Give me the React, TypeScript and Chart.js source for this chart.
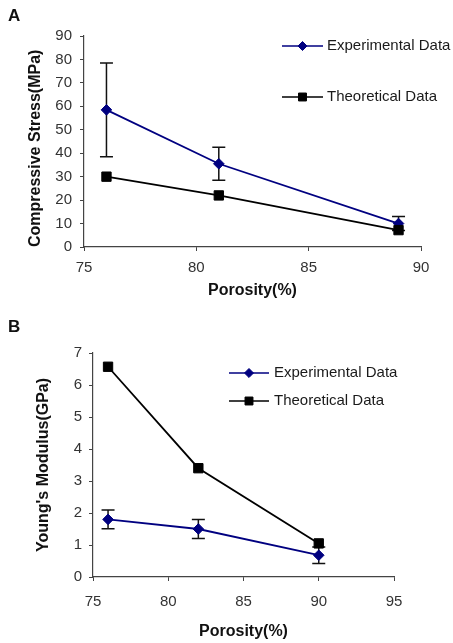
import React, { useEffect, useRef } from "react";
import { Chart, registerables } from "chart.js";
import { drawPoint } from "chart.js/helpers";

Chart.register(...registerables);

// ---------- Data ----------
// Panel A: Compressive stress vs porosity
const porosityA = [76, 81, 89];
const expStressA = [58.5, 35.5, 10];
const expStressErrA = [20, 7, 3];
const theoStressA = [30, 22, 7.2];

// Panel B: Young's modulus vs porosity
const porosityB = [76, 82, 90];
const expModulusB = [1.8, 1.5, 0.68];
const expModulusErrB = [0.29, 0.3, 0.26];
const theoModulusB = [6.57, 3.4, 1.05];

const seriesLabels = ["Experimental Data", "Theoretical Data"];
const axisTitlesA = { x: "Porosity(%)", y: "Compressive Stress(MPa)" };
const axisTitlesB = { x: "Porosity(%)", y: "Young's Modulus(GPa)" };
const xRangeA = [75, 90];
const yRangeA = [0, 90];
const xRangeB = [75, 95];
const yRangeB = [0, 7];

const FONT = "'Liberation Sans', Arial, sans-serif";
const EXP_COLOR = "#000080";
const THEO_COLOR = "#000000";
const AXIS_COLOR = "#444444";

const errorBarPlugin = {
  id: "errorBars",
  beforeDatasetsDraw(chart: any) {
    const { ctx } = chart;
    const yScale = chart.scales.y;
    chart.data.datasets.forEach((ds: any, i: number) => {
      const errs: number[] | undefined = ds.errors;
      if (!errs) return;
      const meta = chart.getDatasetMeta(i);
      const cap = 6.5;
      meta.data.forEach((pt: any, j: number) => {
        const v = ds.data[j].y;
        const e = errs[j];
        const x = pt.x;
        const yTop = yScale.getPixelForValue(v + e);
        const yBot = yScale.getPixelForValue(v - e);
        ctx.save();
        ctx.strokeStyle = "#111";
        ctx.lineWidth = 1.5;
        ctx.beginPath();
        ctx.moveTo(x, yTop);
        ctx.lineTo(x, yBot);
        ctx.moveTo(x - cap, yTop);
        ctx.lineTo(x + cap, yTop);
        ctx.moveTo(x - cap, yBot);
        ctx.lineTo(x + cap, yBot);
        ctx.stroke();
        ctx.restore();
      });
    });
  },
};

const seriesKeyPlugin = {
  id: "seriesKey",
  afterDraw(chart: any, _args: any, opts: any) {
    const { ctx } = chart;
    const { x, lineLen, textX, ys, markerScale } = opts;
    chart.data.datasets.forEach((ds: any, i: number) => {
      const y = ys[i];
      ctx.save();
      ctx.strokeStyle = ds.borderColor;
      ctx.lineWidth = 1.7;
      ctx.beginPath();
      ctx.moveTo(x, y);
      ctx.lineTo(x + lineLen, y);
      ctx.stroke();
      ctx.fillStyle = ds.backgroundColor;
      ctx.strokeStyle = ds.borderColor;
      ctx.lineWidth = 1;
      drawPoint(
        ctx,
        { pointStyle: ds.pointStyle, radius: ds.pointRadius * markerScale, rotation: 0, borderWidth: 1 },
        x + lineLen / 2,
        y
      );
      ctx.fillStyle = "#1a1a1a";
      ctx.font = `15px ${FONT}`;
      ctx.textAlign = "left";
      ctx.textBaseline = "middle";
      ctx.fillText(ds.label, textX, y);
      ctx.restore();
    });
  },
};

type PanelSpec = {
  xs: number[];
  exp: number[];
  expErr: number[];
  theo: number[];
  xRange: number[];
  yRange: number[];
  xStep: number;
  yStep: number;
  titles: { x: string; y: string };
  area: { left: number; top: number; right: number; bottom: number };
  width: number;
  height: number;
  yTitlePadTop: number;
  yTitleAlign: "start" | "center";
  xTitlePadBottom: number;
  xTickPad: number;
  yTickPad: number;
  key: { x: number; lineLen: number; textX: number; ys: number[]; markerScale: number };
};

function makeConfig(p: PanelSpec): any {
  const tickFont = { family: FONT, size: 15 };
  const titleFont = { family: FONT, size: 16, weight: "bold" as const };
  return {
    type: "line",
    data: {
      datasets: [
        {
          label: seriesLabels[0],
          data: p.xs.map((x, i) => ({ x, y: p.exp[i] })),
          errors: p.expErr,
          borderColor: EXP_COLOR,
          backgroundColor: EXP_COLOR,
          borderWidth: 1.8,
          pointStyle: "rectRot",
          pointRadius: 5.3,
          pointBorderWidth: 1,
          order: 1,
        },
        {
          label: seriesLabels[1],
          data: p.xs.map((x, i) => ({ x, y: p.theo[i] })),
          borderColor: THEO_COLOR,
          backgroundColor: THEO_COLOR,
          borderWidth: 1.8,
          pointStyle: "rect",
          pointRadius: 6.6,
          pointBorderWidth: 1,
          order: 0,
        },
      ],
    },
    options: {
      responsive: false,
      animation: false,
      events: [],
      layout: {
        padding: { left: 0, top: p.area.top, right: p.width - p.area.right, bottom: 0 },
      },
      plugins: {
        legend: { display: false },
        tooltip: { enabled: false },
        seriesKey: p.key,
      },
      scales: {
        x: {
          type: "linear",
          min: p.xRange[0],
          max: p.xRange[1],
          ticks: { stepSize: p.xStep, font: tickFont, color: "#333", padding: p.xTickPad, maxRotation: 0 },
          grid: { display: true, drawOnChartArea: false, drawTicks: true, tickLength: 4, color: AXIS_COLOR },
          border: { display: true, color: AXIS_COLOR, width: 1.2 },
          title: {
            display: true,
            text: p.titles.x,
            font: titleFont,
            color: "#111",
            padding: { top: 0, bottom: p.xTitlePadBottom },
          },
          afterFit: (s: any) => {
            s.height = p.height - p.area.bottom;
          },
        },
        y: {
          type: "linear",
          min: p.yRange[0],
          max: p.yRange[1],
          ticks: { stepSize: p.yStep, font: tickFont, color: "#333", padding: p.yTickPad },
          grid: { display: true, drawOnChartArea: false, drawTicks: true, tickLength: 4, color: AXIS_COLOR },
          border: { display: true, color: AXIS_COLOR, width: 1.2 },
          title: {
            display: true,
            text: p.titles.y,
            font: titleFont,
            color: "#111",
            align: p.yTitleAlign,
            padding: { top: p.yTitlePadTop, bottom: 0 },
          },
          afterFit: (s: any) => {
            s.width = p.area.left;
          },
        },
      },
    },
    plugins: [errorBarPlugin, seriesKeyPlugin],
  };
}

const panelA: PanelSpec = {
  xs: porosityA,
  exp: expStressA,
  expErr: expStressErrA,
  theo: theoStressA,
  xRange: xRangeA,
  yRange: yRangeA,
  xStep: 5,
  yStep: 10,
  titles: axisTitlesA,
  area: { left: 84, top: 36, right: 421, bottom: 247 },
  width: 453,
  height: 310,
  yTitlePadTop: 26,
  yTitleAlign: "start",
  xTitlePadBottom: 10,
  xTickPad: 8,
  yTickPad: 8,
  key: { x: 282, lineLen: 41, textX: 327, ys: [46, 97], markerScale: 0.85 },
};

const panelB: PanelSpec = {
  xs: porosityB,
  exp: expModulusB,
  expErr: expModulusErrB,
  theo: theoModulusB,
  xRange: xRangeB,
  yRange: yRangeB,
  xStep: 5,
  yStep: 1,
  titles: axisTitlesB,
  area: { left: 93, top: 43, right: 394, bottom: 267 },
  width: 453,
  height: 333,
  yTitlePadTop: 34,
  yTitleAlign: "center",
  xTitlePadBottom: 1.5,
  xTickPad: 12,
  yTickPad: 7,
  key: { x: 229, lineLen: 40, textX: 274, ys: [63, 91], markerScale: 0.85 },
};

function Panel({ spec }: { spec: PanelSpec }) {
  const ref = useRef<HTMLCanvasElement>(null);
  useEffect(() => {
    if (!ref.current) return;
    const chart = new Chart(ref.current, makeConfig(spec));
    return () => chart.destroy();
  }, [spec]);
  return (
    <canvas
      ref={ref}
      width={spec.width}
      height={spec.height}
      style={{ display: "block", width: spec.width, height: spec.height }}
    />
  );
}

const letterStyle: React.CSSProperties = {
  position: "absolute",
  left: 8,
  fontFamily: FONT,
  fontWeight: "bold",
  fontSize: 17,
  lineHeight: "17px",
  color: "#111",
};

export default function App() {
  return (
    <div style={{ position: "absolute", left: 0, top: 0, width: 453, height: 643, background: "#fff" }}>
      <div style={{ position: "absolute", left: 0, top: 0 }}>
        <Panel spec={panelA} />
      </div>
      <div style={{ position: "absolute", left: 0, top: 310 }}>
        <Panel spec={panelB} />
      </div>
      <div style={{ ...letterStyle, top: 7 }}>A</div>
      <div style={{ ...letterStyle, top: 318 }}>B</div>
    </div>
  );
}
